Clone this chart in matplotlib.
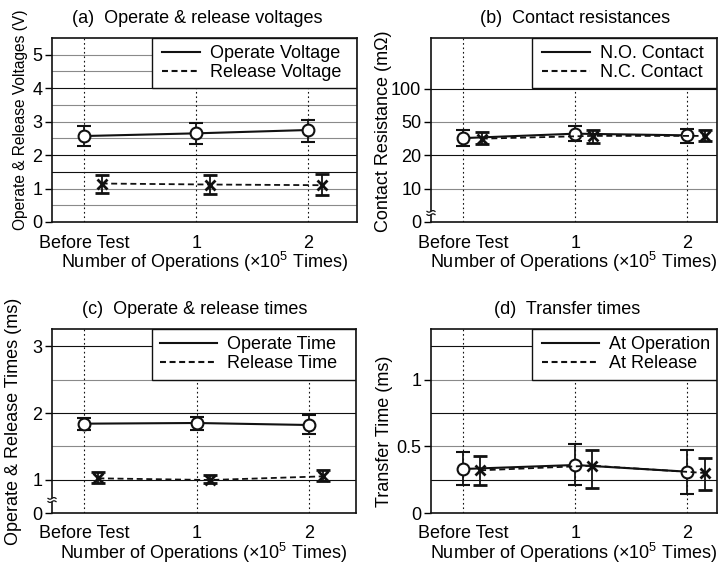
import numpy as np
import matplotlib
matplotlib.use("Agg")
import matplotlib.pyplot as plt
from matplotlib.lines import Line2D
from matplotlib.patches import Rectangle, Polygon

plt.rcParams["font.family"] = ["Liberation Sans", "DejaVu Sans"]
plt.rcParams["mathtext.fontset"] = "custom"
plt.rcParams["mathtext.rm"] = "Liberation Sans"
plt.rcParams["mathtext.default"] = "regular"
plt.rcParams["font.size"] = 13
plt.rcParams["lines.scale_dashes"] = False

# ---------------- data ----------------
X_LABELS = ["Before Test", "1", "2"]
X = np.array([0.0, 1.0, 2.0])

# (a) operate & release voltages (V)
op_volt = [2.57, 2.65, 2.75]
op_volt_lo = [2.27, 2.33, 2.39]
op_volt_hi = [2.87, 2.97, 3.05]
rel_volt = [1.15, 1.12, 1.10]
rel_volt_lo = [0.88, 0.84, 0.80]
rel_volt_hi = [1.39, 1.40, 1.42]

# (b) contact resistances (mOhm)
no_res = [35.5, 39.5, 38.0]
no_res_lo = [28.5, 33.0, 31.5]
no_res_hi = [42.5, 46.0, 44.0]
nc_res = [35.0, 37.5, 37.5]
nc_res_lo = [30.0, 31.5, 32.5]
nc_res_hi = [41.0, 43.0, 42.5]

# (c) operate & release times (ms)
op_time = [1.84, 1.85, 1.82]
op_time_lo = [1.74, 1.75, 1.69]
op_time_hi = [1.925, 1.935, 1.975]
rel_time = [1.02, 0.99, 1.05]
rel_time_lo = [0.89, 0.90, 0.95]
rel_time_hi = [1.12, 1.075, 1.14]

# (d) transfer times (ms)
tr_op = [0.33, 0.36, 0.31]
tr_op_lo = [0.21, 0.21, 0.14]
tr_op_hi = [0.46, 0.52, 0.47]
tr_rel = [0.32, 0.355, 0.30]
tr_rel_lo = [0.21, 0.19, 0.17]
tr_rel_hi = [0.43, 0.47, 0.41]

# ---------------- styling helpers ----------------
BLACK = "#111111"
GRAY = "#8a8a8a"
DASH = (0, (4.3, 2.6))
XLABEL = r"Number of Operations ($\times$10$^5$ Times)"

fig = plt.figure(figsize=(7.18, 5.66), dpi=100)
W, H = 718.0, 566.0


def add_axes(l, r, t, b):
    return fig.add_axes([l / W, 1 - b / H, (r - l) / W, (b - t) / H])


def series(ax, x, y, lo, hi, marker, ls, ms, mew, lw):
    y = np.asarray(y)
    err = [y - np.asarray(lo), np.asarray(hi) - y]
    ax.errorbar(x, y, yerr=err, fmt=marker, ls=ls, color=BLACK, lw=lw,
                ms=ms, mew=mew, mfc="white", mec=BLACK,
                ecolor=BLACK, elinewidth=1.3, capsize=5, capthick=1.3,
                zorder=4)


def decorate(ax, title, tx, ylabel, ylab_x, ylab_y, ylab_size, grid, box,
             leg_labels, leg_x, handlelen):
    for v, c in grid:
        ax.axhline(v, color=c, lw=0.8, zorder=1)
    for xv in X:
        ax.axvline(xv, color=BLACK, lw=0.8, ls=(0, (1.2, 2.0)), zorder=1)
    x0, y0 = box
    ax.add_patch(Rectangle((x0, y0), 1 - x0, 1 - y0, transform=ax.transAxes,
                           fc="white", ec=BLACK, lw=1.0, zorder=3))
    handles = [Line2D([], [], color=BLACK, lw=1.5),
               Line2D([], [], color=BLACK, lw=1.5, ls=DASH)]
    ax.legend(handles, leg_labels, loc="center left",
              bbox_to_anchor=(leg_x, (1 + y0) / 2), frameon=False,
              borderpad=0, borderaxespad=0, handlelength=handlelen,
              handletextpad=0.55, labelspacing=0.12, fontsize=13)
    ax.set_xticks(X)
    ax.set_xticklabels(X_LABELS)
    ax.tick_params(axis="x", length=0, pad=9)
    ax.tick_params(axis="y", length=5, width=1.0, pad=2, direction="out")
    ax.set_xlabel(XLABEL, labelpad=-1.5)
    ax.set_ylabel(ylabel, fontsize=ylab_size)
    ax.yaxis.set_label_coords(ylab_x, ylab_y)
    h_px = ax.bbox.height
    ax.text(tx, 1 + 15.0 / h_px, title, transform=ax.transAxes,
            ha="center", va="baseline", fontsize=13)
    for s in ax.spines.values():
        s.set_linewidth(1.2)
        s.set_color(BLACK)
        s.set_zorder(5)


def axis_break(ax, yfrac):
    """Small wavy break mark on the left spine."""
    w_px, h_px = ax.bbox.width, ax.bbox.height
    t = np.linspace(-4, 4, 30)
    gap = 1.6
    top = yfrac + (gap + 0.8 * np.sin(t * np.pi / 4)) / h_px
    bot = yfrac + (-gap + 0.8 * np.sin(t * np.pi / 4)) / h_px
    xs = t / w_px
    poly = np.vstack([np.column_stack([xs, top]),
                      np.column_stack([xs[::-1], bot[::-1]])])
    ax.add_patch(Polygon(poly, closed=True, transform=ax.transAxes,
                         fc="white", ec="none", clip_on=False, zorder=6))
    for yy in (top, bot):
        ax.plot(xs, yy, transform=ax.transAxes, color=BLACK, lw=0.9,
                clip_on=False, zorder=7)


# ---------------- (a) ----------------
ax = add_axes(52, 357, 38, 222)
ax.set_xlim(-0.288, 2.435)
ax.set_ylim(0, 5.5)
series(ax, X, op_volt, op_volt_lo, op_volt_hi, "o", "-", 8.5, 1.5, 1.5)
series(ax, X + np.array([0.155, 0.125, 0.12]), rel_volt, rel_volt_lo,
       rel_volt_hi, "x", DASH, 7.5, 2.0, 1.3)
ax.set_yticks([0, 1, 2, 3, 4, 5])
ax.set_yticklabels(["0", "1", "2", "3", "4", "5"])
grid_a = [(0.5, GRAY), (1.0, GRAY), (1.5, BLACK), (2.0, BLACK), (2.5, GRAY),
          (3.0, GRAY), (3.5, GRAY), (4.0, BLACK), (4.5, GRAY), (5.0, GRAY)]
decorate(ax, "(a)  Operate & release voltages", 0.475,
         "Operate & Release Voltages (V)", -0.079, 0.554, 11.2, grid_a,
         (0.328, 0.727), ["Operate Voltage", "Release Voltage"], 0.361, 2.1)

# ---------------- (b) ----------------
RES_VALS = [0, 10, 20, 50, 100, 200, 500]
RES_POS = [0, 1, 2, 3, 4, 5, 6]
ax = add_axes(431, 717, 38, 222)
ax.set_yscale("function", functions=(lambda v: np.interp(v, RES_VALS, RES_POS),
                                     lambda p: np.interp(p, RES_POS, RES_VALS)))
ax.set_xlim(-0.289, 2.268)
ax.set_ylim(0, float(np.interp(5.52, RES_POS, RES_VALS)))
series(ax, X, no_res, no_res_lo, no_res_hi, "o", "-", 8.5, 1.5, 1.5)
series(ax, X + np.array([0.165, 0.155, 0.165]), nc_res, nc_res_lo, nc_res_hi,
       "x", DASH, 7.5, 2.0, 1.3)
ax.set_yticks([0, 10, 20, 50, 100])
ax.set_yticklabels(["0", "10", "20", "50", "100"])
ax.yaxis.set_minor_locator(matplotlib.ticker.NullLocator())
grid_b = [(10, GRAY), (20, BLACK), (50, GRAY), (100, BLACK)]
decorate(ax, "(b)  Contact resistances", 0.505,
         "Contact Resistance (m\u03a9)", -0.136, 0.495, 13, grid_b,
         (0.352, 0.727), ["N.O. Contact", "N.C. Contact"], 0.387, 2.7)
axis_break(ax, 9.0 / 184)

# ---------------- (c) ----------------
T_VALS = [0, 1, 4]
T_POS = [0, 1, 7]
ax = add_axes(52, 356, 329, 513)
ax.set_yscale("function", functions=(lambda v: np.interp(v, T_VALS, T_POS),
                                     lambda p: np.interp(p, T_POS, T_VALS)))
ax.set_xlim(-0.288, 2.42)
ax.set_ylim(0, float(np.interp(5.52, T_POS, T_VALS)))
series(ax, X, op_time, op_time_lo, op_time_hi, "o", "-", 8.5, 1.5, 1.5)
series(ax, X + np.array([0.125, 0.12, 0.13]), rel_time, rel_time_lo,
       rel_time_hi, "x", DASH, 7.5, 2.0, 1.3)
ax.set_yticks([0, 1, 2, 3])
ax.set_yticklabels(["0", "1", "2", "3"])
ax.yaxis.set_minor_locator(matplotlib.ticker.NullLocator())
grid_c = [(1.0, BLACK), (1.5, GRAY), (2.0, BLACK), (2.5, GRAY), (3.0, BLACK)]
decorate(ax, "(c)  Operate & release times", 0.469,
         "Operate & Release Times (ms)", -0.099, 0.497, 13, grid_c,
         (0.329, 0.725), ["Operate Time", "Release Time"], 0.354, 3.2)
axis_break(ax, 13.0 / 184)

# ---------------- (d) ----------------
ax = add_axes(431, 717, 329, 513)
ax.set_xlim(-0.289, 2.268)
ax.set_ylim(0, 1.38)
series(ax, X, tr_op, tr_op_lo, tr_op_hi, "o", "-", 8.5, 1.5, 1.5)
series(ax, X + np.array([0.15, 0.15, 0.16]), tr_rel, tr_rel_lo, tr_rel_hi,
       "x", DASH, 7.5, 2.0, 1.3)
ax.set_yticks([0, 0.5, 1])
ax.set_yticklabels(["0", "0.5", "1"])
grid_d = [(0.25, BLACK), (0.5, GRAY), (0.75, BLACK), (1.0, GRAY), (1.25, BLACK)]
decorate(ax, "(d)  Transfer times", 0.475,
         "Transfer Time (ms)", -0.133, 0.446, 13, grid_d,
         (0.352, 0.725), ["At Operation", "At Release"], 0.387, 3.2)

fig.savefig("out.png", dpi=100)
